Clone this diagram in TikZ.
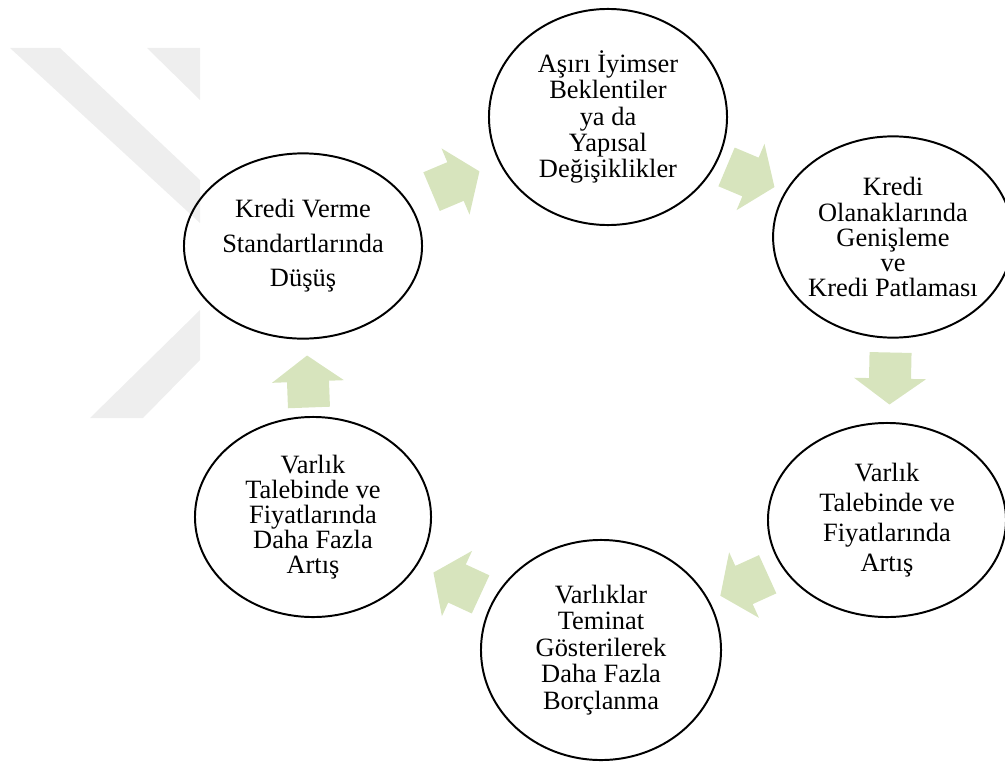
\documentclass[tikz,border=0pt]{standalone}
\usepackage{fontspec}
\setmainfont{Liberation Serif}
\usetikzlibrary{shapes.geometric}
\definecolor{arrowgreen}{HTML}{D7E4BD}
\definecolor{markgray}{HTML}{EEEEEE}

\begin{document}
\begin{tikzpicture}[x=0.025cm,y=-0.025cm,
  stage/.style={draw=black, line width=1.4pt, ellipse, inner sep=0pt, align=center,
    font=\fontsize{18.8}{#1}\selectfont},
  cyclearrow/.pic={\fill[arrowgreen] (-26,-21) -- (0,-21) -- (0,-36) -- (26,0)
    -- (0,36) -- (0,21) -- (-26,21) -- cycle;}]
\useasboundingbox (0,0) rectangle (1005,762);
% Mark in the background
\fill[markgray] (10,48) -- (60,48) -- (200,180) -- (200,223) -- cycle;
\fill[markgray] (147,48) -- (200,48) -- (200,100) -- cycle;
\fill[markgray] (200,310) -- (200,360) -- (143,418) -- (90,418) -- cycle;
% Stages of the cycle
\node[stage=18.8pt, minimum width=5.95cm, minimum height=5.4cm] (aib) at (608,117)
  {Aşırı İyimser\\Beklentiler\\ya da\\Yapısal\\Değişiklikler};
\node[stage=17.8pt, minimum width=5.9cm, minimum height=5.03cm] (kog) at (893,237)
  {Kredi\\Olanaklarında\\Genişleme\\ve\\Kredi Patlaması};
\node[stage=21.3pt, minimum width=5.95cm, minimum height=4.85cm] (vta) at (887,520)
  {Varlık\\Talebinde ve\\Fiyatlarında\\Artış};
\node[stage=18.8pt, minimum width=6cm, minimum height=5.5cm] (vtb) at (601,650)
  {Varlıklar\\Teminat\\Gösterilerek\\Daha Fazla\\Borçlanma};
\node[stage=17.8pt, minimum width=5.9cm, minimum height=5cm] (vtd) at (313,517)
  {Varlık\\Talebinde ve\\Fiyatlarında\\Daha Fazla\\Artış};
\node[stage=24.5pt, minimum width=5.95cm, minimum height=4.63cm] (kvs) at (303,246)
  {Kredi Verme\\Standartlarında\\Düşüş};
% Block arrows half way between the stages
\foreach \a/\b in {kvs/aib, aib/kog, kog/vta, vta/vtb, vtb/vtd, vtd/kvs}
  \path (\a.center) -- (\b.center) pic[pos=0.5, sloped, allow upside down] {cyclearrow};
\end{tikzpicture}
\end{document}
